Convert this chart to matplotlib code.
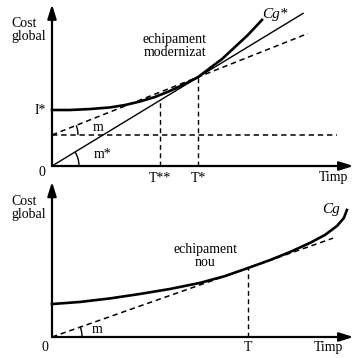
import numpy as np
import matplotlib.pyplot as plt
from matplotlib.patches import Arc

plt.rcParams['font.family'] = ['Liberation Serif', 'DejaVu Serif']

# --- panou de sus: echipament modernizat ---
cg_star_x = [0.0, 0.6, 1.27, 1.93, 2.43, 2.93, 3.43, 3.93, 4.43, 4.87,
             5.27, 5.67, 6.1, 6.53, 7.0]
cg_star_y = [3.5, 3.5, 3.56, 3.66, 3.81, 4.03, 4.31, 4.69, 5.13, 5.56,
             6.13, 6.69, 7.44, 8.19, 9.13]
I_star = 3.5
T_star = 4.87
T_ss = 3.6
m_level = 1.94
line_star_x = [0.0, 8.37]          # dreapta prin origine (m*)
line_star_y = [0.0, 9.54]
tang_star_x = [0.0, 8.53]          # tangenta punctata (m)
tang_star_y = [m_level, 8.28]
horiz_x = [0.0, 9.5]
horiz_y = [m_level, m_level]

# --- panou de jos: echipament nou ---
cg_x = [0.0, 0.93, 1.93, 2.93, 3.93, 4.93, 5.77, 6.53, 7.27, 7.93, 8.6,
        9.1, 9.5, 9.73, 9.83]
cg_y = [2.06, 2.19, 2.41, 2.69, 3.0, 3.38, 3.81, 4.31, 4.81, 5.31, 5.88,
        6.38, 6.94, 7.44, 7.94]
T_new = 6.53
T_new_y = 4.31
tang_x = [0.0, 9.37]
tang_y = [0.0, 6.18]

fig = plt.figure(figsize=(3.6, 3.58), dpi=100)
W, H = 360, 358
ax1 = fig.add_axes([52 / W, (H - 166) / H, 300 / W, 160 / H])
ax2 = fig.add_axes([52 / W, (H - 337) / H, 300 / W, 160 / H])

dash = (0, (3.5, 2.5))
fs = 10


def axes_arrows(ax, ytop):
    ax.set_xlim(0, 10)
    ax.set_ylim(0, 10)
    ax.axis('off')
    ap = dict(arrowstyle='-|>,head_length=0.7,head_width=0.22', lw=1.6,
              color='black', shrinkA=0, shrinkB=0, mutation_scale=12)
    ax.annotate('', xy=(10.05, 0), xytext=(0, 0), arrowprops=ap,
                annotation_clip=False)
    ax.annotate('', xy=(0, ytop), xytext=(0, 0), arrowprops=ap,
                annotation_clip=False)


def angle_arc(ax, x0, y0, rpx, xs, ys):
    ang = np.degrees(np.arctan2(ys[1] - ys[0], xs[1] - xs[0]))
    ax.add_patch(Arc((x0, y0), 2 * rpx / 30, 2 * rpx / 16, theta1=0,
                     theta2=ang, lw=1.0, color='black', clip_on=False))


# sus
axes_arrows(ax1, 10.1)
ax1.plot(cg_star_x, cg_star_y, color='black', lw=1.9, clip_on=False)
ax1.plot(line_star_x, line_star_y, color='black', lw=1.0, clip_on=False)
ax1.plot(tang_star_x, tang_star_y, color='black', lw=1.1, ls=dash, clip_on=False)
ax1.plot(horiz_x, horiz_y, color='black', lw=1.1, ls=dash, clip_on=False)
ax1.plot([T_ss, T_ss], [0, line_star_y[1] / line_star_x[1] * T_ss],
         color='black', lw=1.0, ls=dash)
ax1.plot([T_star, T_star], [0, cg_star_y[9]], color='black', lw=1.0, ls=dash)
angle_arc(ax1, 0, 0, 27, line_star_x, line_star_y)
angle_arc(ax1, 0, m_level, 26, tang_star_x, tang_star_y)

ax1.text(-1.37, 8.5, 'Cost\nglobal', fontsize=fs, ha='left', va='center',
         linespacing=1.05)
ax1.text(-0.2, I_star, 'I*', fontsize=fs, ha='right', va='center')
ax1.text(-0.33, -0.38, '0', fontsize=fs, ha='center', va='center')
ax1.text(4.1, 7.5, 'echipament\nmodernizat', fontsize=fs, ha='center',
         va='center', linespacing=1.0)
ax1.text(7.43, 9.44, 'Cg*', fontsize=fs + 1, style='italic', ha='center',
         va='center')
ax1.text(1.53, 2.38, 'm', fontsize=fs, ha='center', va='center')
ax1.text(1.7, 0.69, 'm*', fontsize=fs, ha='center', va='center')
ax1.text(T_ss, -0.75, 'T**', fontsize=fs, ha='center', va='center')
ax1.text(T_star, -0.75, 'T*', fontsize=fs, ha='center', va='center')
ax1.text(9.37, -0.72, 'Timp', fontsize=fs, ha='center', va='center')

# jos
axes_arrows(ax2, 9.7)
ax2.plot(cg_x, cg_y, color='black', lw=1.9, clip_on=False)
ax2.plot(tang_x, tang_y, color='black', lw=1.1, ls=dash, clip_on=False)
ax2.plot([T_new, T_new], [0, T_new_y], color='black', lw=1.0, ls=dash)
angle_arc(ax2, 0, 0, 30, tang_x, tang_y)

ax2.text(-1.37, 8.06, 'Cost\nglobal', fontsize=fs, ha='left', va='center',
         linespacing=1.05)
ax2.text(-0.23, -0.63, '0', fontsize=fs, ha='center', va='center')
ax2.text(5.1, 5.06, 'echipament\nnou', fontsize=fs, ha='center',
         va='center', linespacing=1.0)
ax2.text(9.3, 8.0, 'Cg', fontsize=fs + 1, style='italic', ha='center',
         va='center')
ax2.text(1.5, 0.44, 'm', fontsize=fs, ha='center', va='center')
ax2.text(T_new, -0.63, 'T', fontsize=fs, ha='center', va='center')
ax2.text(9.23, -0.63, 'Timp', fontsize=fs, ha='center', va='center')

fig.savefig('out.png', dpi=100)
